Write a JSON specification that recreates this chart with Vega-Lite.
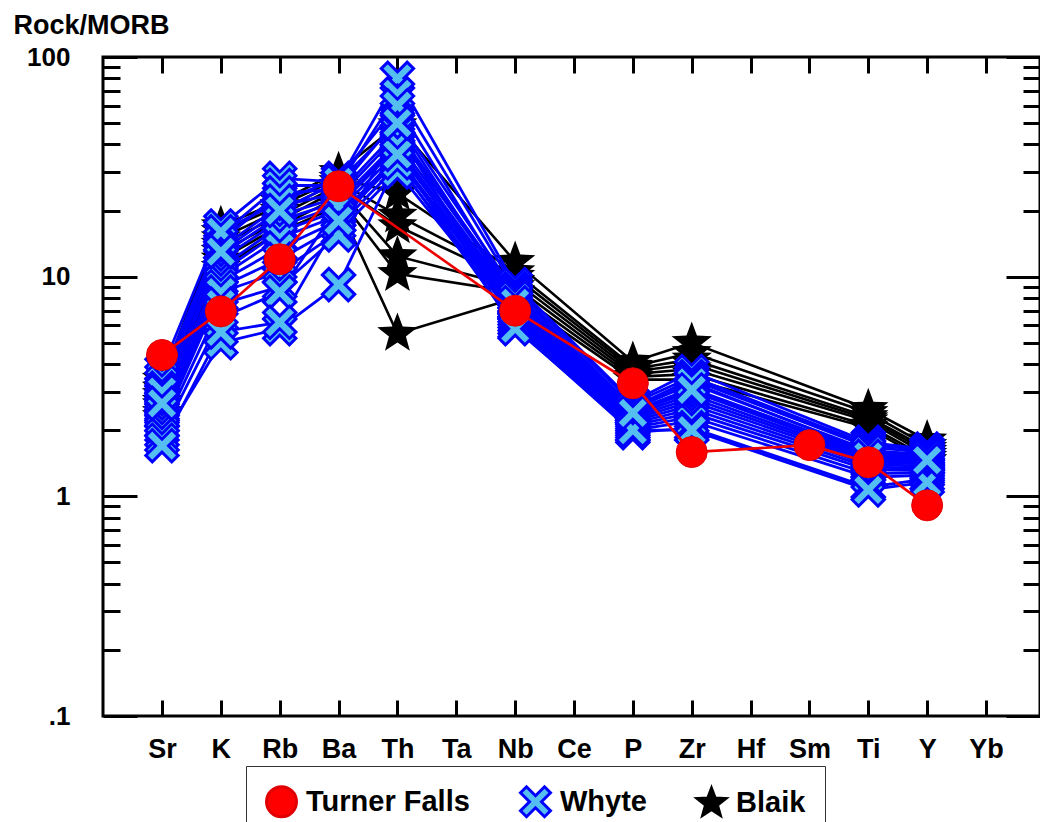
{
  "$schema": "https://vega.github.io/schema/vega-lite/v6.json",
  "width": 937,
  "height": 659,
  "autosize": {"type": "none"},
  "padding": {"left": 103, "top": 57, "right": 0, "bottom": 106},
  "background": "white",
  "config": {"view": {"stroke": "#000000", "strokeWidth": 3}, "font": "Liberation Sans"},
  "data": {"values": [
    {"g":"Blaik","s":"B1","el":"Sr","v":3.4},{"g":"Blaik","s":"B1","el":"K","v":17},{"g":"Blaik","s":"B1","el":"Rb","v":22},{"g":"Blaik","s":"B1","el":"Ba","v":30},{"g":"Blaik","s":"B1","el":"Th","v":49},{"g":"Blaik","s":"B1","el":"Nb","v":11.7},{"g":"Blaik","s":"B1","el":"P","v":4.1},{"g":"Blaik","s":"B1","el":"Zr","v":5.0},{"g":"Blaik","s":"B1","el":"Ti","v":2.5},{"g":"Blaik","s":"B1","el":"Y","v":1.8},
    {"g":"Blaik","s":"B2","el":"Sr","v":3.1},{"g":"Blaik","s":"B2","el":"K","v":16},{"g":"Blaik","s":"B2","el":"Rb","v":21},{"g":"Blaik","s":"B2","el":"Ba","v":28},{"g":"Blaik","s":"B2","el":"Th","v":24},{"g":"Blaik","s":"B2","el":"Nb","v":10.5},{"g":"Blaik","s":"B2","el":"P","v":3.9},{"g":"Blaik","s":"B2","el":"Zr","v":4.5},{"g":"Blaik","s":"B2","el":"Ti","v":2.4},{"g":"Blaik","s":"B2","el":"Y","v":1.7},
    {"g":"Blaik","s":"B3","el":"Sr","v":2.9},{"g":"Blaik","s":"B3","el":"K","v":15},{"g":"Blaik","s":"B3","el":"Rb","v":20},{"g":"Blaik","s":"B3","el":"Ba","v":27},{"g":"Blaik","s":"B3","el":"Th","v":19},{"g":"Blaik","s":"B3","el":"Nb","v":10},{"g":"Blaik","s":"B3","el":"P","v":3.8},{"g":"Blaik","s":"B3","el":"Zr","v":4.2},{"g":"Blaik","s":"B3","el":"Ti","v":2.3},{"g":"Blaik","s":"B3","el":"Y","v":1.65},
    {"g":"Blaik","s":"B4","el":"Sr","v":2.7},{"g":"Blaik","s":"B4","el":"K","v":14},{"g":"Blaik","s":"B4","el":"Rb","v":19},{"g":"Blaik","s":"B4","el":"Ba","v":26},{"g":"Blaik","s":"B4","el":"Th","v":17},{"g":"Blaik","s":"B4","el":"Nb","v":9.5},{"g":"Blaik","s":"B4","el":"P","v":3.7},{"g":"Blaik","s":"B4","el":"Zr","v":4.0},{"g":"Blaik","s":"B4","el":"Ti","v":2.25},{"g":"Blaik","s":"B4","el":"Y","v":1.6},
    {"g":"Blaik","s":"B5","el":"Sr","v":2.6},{"g":"Blaik","s":"B5","el":"K","v":13},{"g":"Blaik","s":"B5","el":"Rb","v":18},{"g":"Blaik","s":"B5","el":"Ba","v":25},{"g":"Blaik","s":"B5","el":"Th","v":12.4},{"g":"Blaik","s":"B5","el":"Nb","v":9},{"g":"Blaik","s":"B5","el":"P","v":3.6},{"g":"Blaik","s":"B5","el":"Zr","v":3.8},{"g":"Blaik","s":"B5","el":"Ti","v":2.2},{"g":"Blaik","s":"B5","el":"Y","v":1.55},
    {"g":"Blaik","s":"B6","el":"Sr","v":2.4},{"g":"Blaik","s":"B6","el":"K","v":12},{"g":"Blaik","s":"B6","el":"Rb","v":17},{"g":"Blaik","s":"B6","el":"Ba","v":23},{"g":"Blaik","s":"B6","el":"Th","v":10.3},{"g":"Blaik","s":"B6","el":"Nb","v":8.5},{"g":"Blaik","s":"B6","el":"P","v":3.5},{"g":"Blaik","s":"B6","el":"Zr","v":3.6},{"g":"Blaik","s":"B6","el":"Ti","v":2.1},{"g":"Blaik","s":"B6","el":"Y","v":1.5},
    {"g":"Blaik","s":"B7","el":"Sr","v":2.3},{"g":"Blaik","s":"B7","el":"K","v":11},{"g":"Blaik","s":"B7","el":"Rb","v":16},{"g":"Blaik","s":"B7","el":"Ba","v":21},{"g":"Blaik","s":"B7","el":"Th","v":5.5},{"g":"Blaik","s":"B7","el":"Nb","v":8},{"g":"Blaik","s":"B7","el":"P","v":3.4},{"g":"Blaik","s":"B7","el":"Zr","v":3.4},{"g":"Blaik","s":"B7","el":"Ti","v":2.05},{"g":"Blaik","s":"B7","el":"Y","v":1.45},
    {"g":"Whyte","s":"W1","el":"Sr","v":3.8},{"g":"Whyte","s":"W1","el":"K","v":17},{"g":"Whyte","s":"W1","el":"Rb","v":28},{"g":"Whyte","s":"W1","el":"Ba","v":27},{"g":"Whyte","s":"W1","el":"Th","v":80},{"g":"Whyte","s":"W1","el":"Nb","v":9.2},{"g":"Whyte","s":"W1","el":"P","v":2.7},{"g":"Whyte","s":"W1","el":"Zr","v":3.7},{"g":"Whyte","s":"W1","el":"Ti","v":1.76},{"g":"Whyte","s":"W1","el":"Y","v":1.64},
    {"g":"Whyte","s":"W2","el":"Sr","v":3.5},{"g":"Whyte","s":"W2","el":"K","v":15.5},{"g":"Whyte","s":"W2","el":"Rb","v":26},{"g":"Whyte","s":"W2","el":"Ba","v":26},{"g":"Whyte","s":"W2","el":"Th","v":68},{"g":"Whyte","s":"W2","el":"Nb","v":8.8},{"g":"Whyte","s":"W2","el":"P","v":2.65},{"g":"Whyte","s":"W2","el":"Zr","v":3.5},{"g":"Whyte","s":"W2","el":"Ti","v":1.72},{"g":"Whyte","s":"W2","el":"Y","v":1.62},
    {"g":"Whyte","s":"W3","el":"Sr","v":3.3},{"g":"Whyte","s":"W3","el":"K","v":14.5},{"g":"Whyte","s":"W3","el":"Rb","v":24},{"g":"Whyte","s":"W3","el":"Ba","v":25},{"g":"Whyte","s":"W3","el":"Th","v":52},{"g":"Whyte","s":"W3","el":"Nb","v":8.5},{"g":"Whyte","s":"W3","el":"P","v":2.55},{"g":"Whyte","s":"W3","el":"Zr","v":3.4},{"g":"Whyte","s":"W3","el":"Ti","v":1.68},{"g":"Whyte","s":"W3","el":"Y","v":1.58},
    {"g":"Whyte","s":"W4","el":"Sr","v":3.1},{"g":"Whyte","s":"W4","el":"K","v":13.5},{"g":"Whyte","s":"W4","el":"Rb","v":21},{"g":"Whyte","s":"W4","el":"Ba","v":24},{"g":"Whyte","s":"W4","el":"Th","v":46},{"g":"Whyte","s":"W4","el":"Nb","v":8.2},{"g":"Whyte","s":"W4","el":"P","v":2.5},{"g":"Whyte","s":"W4","el":"Zr","v":3.25},{"g":"Whyte","s":"W4","el":"Ti","v":1.62},{"g":"Whyte","s":"W4","el":"Y","v":1.55},
    {"g":"Whyte","s":"W5","el":"Sr","v":2.9},{"g":"Whyte","s":"W5","el":"K","v":12.5},{"g":"Whyte","s":"W5","el":"Rb","v":19},{"g":"Whyte","s":"W5","el":"Ba","v":23},{"g":"Whyte","s":"W5","el":"Th","v":44},{"g":"Whyte","s":"W5","el":"Nb","v":8.0},{"g":"Whyte","s":"W5","el":"P","v":2.45},{"g":"Whyte","s":"W5","el":"Zr","v":3.1},{"g":"Whyte","s":"W5","el":"Ti","v":1.58},{"g":"Whyte","s":"W5","el":"Y","v":1.5},
    {"g":"Whyte","s":"W6","el":"Sr","v":2.75},{"g":"Whyte","s":"W6","el":"K","v":12},{"g":"Whyte","s":"W6","el":"Rb","v":18},{"g":"Whyte","s":"W6","el":"Ba","v":22},{"g":"Whyte","s":"W6","el":"Th","v":41},{"g":"Whyte","s":"W6","el":"Nb","v":7.7},{"g":"Whyte","s":"W6","el":"P","v":2.4},{"g":"Whyte","s":"W6","el":"Zr","v":3.0},{"g":"Whyte","s":"W6","el":"Ti","v":1.55},{"g":"Whyte","s":"W6","el":"Y","v":1.48},
    {"g":"Whyte","s":"W7","el":"Sr","v":2.6},{"g":"Whyte","s":"W7","el":"K","v":11},{"g":"Whyte","s":"W7","el":"Rb","v":17},{"g":"Whyte","s":"W7","el":"Ba","v":21},{"g":"Whyte","s":"W7","el":"Th","v":39},{"g":"Whyte","s":"W7","el":"Nb","v":7.5},{"g":"Whyte","s":"W7","el":"P","v":2.35},{"g":"Whyte","s":"W7","el":"Zr","v":2.9},{"g":"Whyte","s":"W7","el":"Ti","v":1.5},{"g":"Whyte","s":"W7","el":"Y","v":1.45},
    {"g":"Whyte","s":"W8","el":"Sr","v":2.5},{"g":"Whyte","s":"W8","el":"K","v":10.5},{"g":"Whyte","s":"W8","el":"Rb","v":16},{"g":"Whyte","s":"W8","el":"Ba","v":20},{"g":"Whyte","s":"W8","el":"Th","v":37},{"g":"Whyte","s":"W8","el":"Nb","v":7.3},{"g":"Whyte","s":"W8","el":"P","v":2.3},{"g":"Whyte","s":"W8","el":"Zr","v":2.8},{"g":"Whyte","s":"W8","el":"Ti","v":1.47},{"g":"Whyte","s":"W8","el":"Y","v":1.42},
    {"g":"Whyte","s":"W9","el":"Sr","v":2.4},{"g":"Whyte","s":"W9","el":"K","v":10},{"g":"Whyte","s":"W9","el":"Rb","v":15},{"g":"Whyte","s":"W9","el":"Ba","v":19},{"g":"Whyte","s":"W9","el":"Th","v":35},{"g":"Whyte","s":"W9","el":"Nb","v":7.1},{"g":"Whyte","s":"W9","el":"P","v":2.25},{"g":"Whyte","s":"W9","el":"Zr","v":2.7},{"g":"Whyte","s":"W9","el":"Ti","v":1.44},{"g":"Whyte","s":"W9","el":"Y","v":1.4},
    {"g":"Whyte","s":"W10","el":"Sr","v":2.3},{"g":"Whyte","s":"W10","el":"K","v":9.5},{"g":"Whyte","s":"W10","el":"Rb","v":13.5},{"g":"Whyte","s":"W10","el":"Ba","v":18},{"g":"Whyte","s":"W10","el":"Th","v":34},{"g":"Whyte","s":"W10","el":"Nb","v":6.9},{"g":"Whyte","s":"W10","el":"P","v":2.2},{"g":"Whyte","s":"W10","el":"Zr","v":2.6},{"g":"Whyte","s":"W10","el":"Ti","v":1.4},{"g":"Whyte","s":"W10","el":"Y","v":1.37},
    {"g":"Whyte","s":"W11","el":"Sr","v":2.2},{"g":"Whyte","s":"W11","el":"K","v":9},{"g":"Whyte","s":"W11","el":"Rb","v":12},{"g":"Whyte","s":"W11","el":"Ba","v":17},{"g":"Whyte","s":"W11","el":"Th","v":32},{"g":"Whyte","s":"W11","el":"Nb","v":6.7},{"g":"Whyte","s":"W11","el":"P","v":2.15},{"g":"Whyte","s":"W11","el":"Zr","v":2.5},{"g":"Whyte","s":"W11","el":"Ti","v":1.36},{"g":"Whyte","s":"W11","el":"Y","v":1.34},
    {"g":"Whyte","s":"W12","el":"Sr","v":2.1},{"g":"Whyte","s":"W12","el":"K","v":8.5},{"g":"Whyte","s":"W12","el":"Rb","v":10.5},{"g":"Whyte","s":"W12","el":"Ba","v":16},{"g":"Whyte","s":"W12","el":"Th","v":30},{"g":"Whyte","s":"W12","el":"Nb","v":6.5},{"g":"Whyte","s":"W12","el":"P","v":2.1},{"g":"Whyte","s":"W12","el":"Zr","v":2.4},{"g":"Whyte","s":"W12","el":"Ti","v":1.32},{"g":"Whyte","s":"W12","el":"Y","v":1.31},
    {"g":"Whyte","s":"W13","el":"Sr","v":2.0},{"g":"Whyte","s":"W13","el":"K","v":7.5},{"g":"Whyte","s":"W13","el":"Rb","v":9},{"g":"Whyte","s":"W13","el":"Ba","v":15.5},{"g":"Whyte","s":"W13","el":"Th","v":46},{"g":"Whyte","s":"W13","el":"Nb","v":6.3},{"g":"Whyte","s":"W13","el":"P","v":2.05},{"g":"Whyte","s":"W13","el":"Zr","v":2.3},{"g":"Whyte","s":"W13","el":"Ti","v":1.27},{"g":"Whyte","s":"W13","el":"Y","v":1.28},
    {"g":"Whyte","s":"W14","el":"Sr","v":1.9},{"g":"Whyte","s":"W14","el":"K","v":6.5},{"g":"Whyte","s":"W14","el":"Rb","v":8.5},{"g":"Whyte","s":"W14","el":"Ba","v":21},{"g":"Whyte","s":"W14","el":"Th","v":40},{"g":"Whyte","s":"W14","el":"Nb","v":6.1},{"g":"Whyte","s":"W14","el":"P","v":2.0},{"g":"Whyte","s":"W14","el":"Zr","v":2.2},{"g":"Whyte","s":"W14","el":"Ti","v":1.22},{"g":"Whyte","s":"W14","el":"Y","v":1.25},
    {"g":"Whyte","s":"W15","el":"Sr","v":1.8},{"g":"Whyte","s":"W15","el":"K","v":5.0},{"g":"Whyte","s":"W15","el":"Rb","v":5.8},{"g":"Whyte","s":"W15","el":"Ba","v":9.2},{"g":"Whyte","s":"W15","el":"Th","v":33},{"g":"Whyte","s":"W15","el":"Nb","v":5.9},{"g":"Whyte","s":"W15","el":"P","v":1.95},{"g":"Whyte","s":"W15","el":"Zr","v":2.05},{"g":"Whyte","s":"W15","el":"Ti","v":1.1},{"g":"Whyte","s":"W15","el":"Y","v":1.2},
    {"g":"Whyte","s":"W16","el":"Sr","v":1.7},{"g":"Whyte","s":"W16","el":"K","v":5.6},{"g":"Whyte","s":"W16","el":"Rb","v":6.2},{"g":"Whyte","s":"W16","el":"Ba","v":18},{"g":"Whyte","s":"W16","el":"Th","v":36},{"g":"Whyte","s":"W16","el":"Nb","v":5.8},{"g":"Whyte","s":"W16","el":"P","v":2.0},{"g":"Whyte","s":"W16","el":"Zr","v":2.0},{"g":"Whyte","s":"W16","el":"Ti","v":1.07},{"g":"Whyte","s":"W16","el":"Y","v":1.16},
    {"g":"Whyte","s":"W17","el":"Sr","v":3.0},{"g":"Whyte","s":"W17","el":"K","v":16},{"g":"Whyte","s":"W17","el":"Rb","v":22},{"g":"Whyte","s":"W17","el":"Ba","v":28},{"g":"Whyte","s":"W17","el":"Th","v":60},{"g":"Whyte","s":"W17","el":"Nb","v":8.0},{"g":"Whyte","s":"W17","el":"P","v":2.5},{"g":"Whyte","s":"W17","el":"Zr","v":3.3},{"g":"Whyte","s":"W17","el":"Ti","v":1.6},{"g":"Whyte","s":"W17","el":"Y","v":1.52},
    {"g":"Whyte","s":"W18","el":"Sr","v":2.65},{"g":"Whyte","s":"W18","el":"K","v":13},{"g":"Whyte","s":"W18","el":"Rb","v":20},{"g":"Whyte","s":"W18","el":"Ba","v":27},{"g":"Whyte","s":"W18","el":"Th","v":50},{"g":"Whyte","s":"W18","el":"Nb","v":7.6},{"g":"Whyte","s":"W18","el":"P","v":2.4},{"g":"Whyte","s":"W18","el":"Zr","v":3.05},{"g":"Whyte","s":"W18","el":"Ti","v":1.52},{"g":"Whyte","s":"W18","el":"Y","v":1.46},
    {"g":"Turner Falls","s":"T1","el":"Sr","v":4.4},{"g":"Turner Falls","s":"T1","el":"K","v":6.95},{"g":"Turner Falls","s":"T1","el":"Rb","v":12},{"g":"Turner Falls","s":"T1","el":"Ba","v":25.8},{"g":"Turner Falls","s":"T1","el":"Nb","v":7.0},{"g":"Turner Falls","s":"T1","el":"P","v":3.27},{"g":"Turner Falls","s":"T1","el":"Zr","v":1.59},{"g":"Turner Falls","s":"T1","el":"Sm","v":1.71},{"g":"Turner Falls","s":"T1","el":"Ti","v":1.43},{"g":"Turner Falls","s":"T1","el":"Y","v":0.91}
  ]},
  "layer": [
    {
      "transform": [{"filter": "datum.g === 'Blaik'"}],
      "mark": {"type": "line", "color": "#000000", "strokeWidth": 2.6},
      "encoding": {
        "x": {"field": "el", "type": "ordinal",
          "scale": {"domain": ["Sr","K","Rb","Ba","Th","Ta","Nb","Ce","P","Zr","Hf","Sm","Ti","Y","Yb"], "range": [59, 883], "padding": 0},
          "axis": {"orient": "bottom", "title": null, "grid": false, "domain": false,
            "ticks": true, "tickColor": "#000000", "tickWidth": 3, "tickSize": -16,
            "labelFont": "Liberation Sans", "labelFontWeight": "bold", "labelFontSize": 27, "labelColor": "#000000", "labelPadding": 36, "labelAngle": 0}},
        "y": {"field": "v", "type": "quantitative",
          "scale": {"type": "log", "domain": [0.1, 100]},
          "axis": {"orient": "left", "grid": false, "domain": false,
            "values": [0.1,0.2,0.3,0.4,0.5,0.6,0.7,0.8,0.9,1,2,3,4,5,6,7,8,9,10,20,30,40,50,60,70,80,90,100],
            "ticks": true, "tickColor": "#000000", "tickWidth": 3,
            "tickSize": {"condition": {"test": "datum.value == 0.1 || datum.value == 1 || datum.value == 10 || datum.value == 100", "value": -34}, "value": -17},
            "labelExpr": "datum.value == 0.1 ? '.1' : ((datum.value == 1 || datum.value == 10 || datum.value == 100) ? format(datum.value, 'd') : '')",
            "labelOverlap": false, "labelFlush": false, "labelBound": false,
            "labelFont": "Liberation Sans", "labelFontWeight": "bold", "labelFontSize": 26, "labelColor": "#000000", "labelPadding": 67,
            "title": "Rock/MORB", "titleAngle": 0, "titleX": -90, "titleY": -24, "titleAlign": "left", "titleBaseline": "alphabetic",
            "titleFont": "Liberation Sans", "titleFontSize": 27, "titleFontWeight": "bold", "titleColor": "#000000"}},
        "detail": {"field": "s"},
        "order": {"value": null}
      }
    },
    {
      "transform": [{"filter": "datum.g === 'Blaik'"}],
      "mark": {"type": "point", "filled": true, "opacity": 1, "size": 1800, "strokeWidth": 0},
      "encoding": {
        "x": {"field": "el", "type": "ordinal", "scale": {"domain": ["Sr","K","Rb","Ba","Th","Ta","Nb","Ce","P","Zr","Hf","Sm","Ti","Y","Yb"], "range": [59, 883], "padding": 0}, "axis": null},
        "y": {"field": "v", "type": "quantitative", "scale": {"type": "log", "domain": [0.1, 100]}, "axis": null},
        "shape": {"field": "g", "type": "nominal", "scale": {"domain": ["Turner Falls","Whyte","Blaik"], "range": ["circle", "M-1,-0.6L-0.6,-1L0,-0.4L0.6,-1L1,-0.6L0.4,0L1,0.6L0.6,1L0,0.4L-0.6,1L-1,0.6L-0.4,0Z", "M0,-1L0.247,-0.34L0.951,-0.309L0.399,0.13L0.588,0.809L0,0.42L-0.588,0.809L-0.399,0.13L-0.951,-0.309L-0.247,-0.34Z"]}},
        "fill": {"field": "g", "type": "nominal", "scale": {"domain": ["Turner Falls","Whyte","Blaik"], "range": ["#FF0000", "#55BEF0", "#000000"]}},
        "stroke": {"field": "g", "type": "nominal", "scale": {"domain": ["Turner Falls","Whyte","Blaik"], "range": ["#E00000", "#0000FF", "#000000"]}}
      }
    },
    {
      "transform": [{"filter": "datum.g === 'Whyte'"}],
      "mark": {"type": "line", "color": "#0000FF", "strokeWidth": 2.8},
      "encoding": {
        "x": {"field": "el", "type": "ordinal", "scale": {"domain": ["Sr","K","Rb","Ba","Th","Ta","Nb","Ce","P","Zr","Hf","Sm","Ti","Y","Yb"], "range": [59, 883], "padding": 0}, "axis": null},
        "y": {"field": "v", "type": "quantitative", "scale": {"type": "log", "domain": [0.1, 100]}, "axis": null},
        "detail": {"field": "s"},
        "order": {"value": null}
      }
    },
    {
      "transform": [{"filter": "datum.g === 'Whyte'"}],
      "mark": {"type": "point", "filled": true, "opacity": 1, "size": 1050, "strokeWidth": 3},
      "encoding": {
        "x": {"field": "el", "type": "ordinal", "scale": {"domain": ["Sr","K","Rb","Ba","Th","Ta","Nb","Ce","P","Zr","Hf","Sm","Ti","Y","Yb"], "range": [59, 883], "padding": 0}, "axis": null},
        "y": {"field": "v", "type": "quantitative", "scale": {"type": "log", "domain": [0.1, 100]}, "axis": null},
        "shape": {"field": "g", "type": "nominal", "scale": {"domain": ["Turner Falls","Whyte","Blaik"], "range": ["circle", "M-1,-0.6L-0.6,-1L0,-0.4L0.6,-1L1,-0.6L0.4,0L1,0.6L0.6,1L0,0.4L-0.6,1L-1,0.6L-0.4,0Z", "M0,-1L0.247,-0.34L0.951,-0.309L0.399,0.13L0.588,0.809L0,0.42L-0.588,0.809L-0.399,0.13L-0.951,-0.309L-0.247,-0.34Z"]}},
        "fill": {"field": "g", "type": "nominal", "scale": {"domain": ["Turner Falls","Whyte","Blaik"], "range": ["#FF0000", "#55BEF0", "#000000"]}},
        "stroke": {"field": "g", "type": "nominal", "scale": {"domain": ["Turner Falls","Whyte","Blaik"], "range": ["#E00000", "#0000FF", "#000000"]}}
      }
    },
    {
      "transform": [{"filter": "datum.g === 'Turner Falls'"}],
      "mark": {"type": "line", "color": "#EE0000", "strokeWidth": 2.6},
      "encoding": {
        "x": {"field": "el", "type": "ordinal", "scale": {"domain": ["Sr","K","Rb","Ba","Th","Ta","Nb","Ce","P","Zr","Hf","Sm","Ti","Y","Yb"], "range": [59, 883], "padding": 0}, "axis": null},
        "y": {"field": "v", "type": "quantitative", "scale": {"type": "log", "domain": [0.1, 100]}, "axis": null},
        "detail": {"field": "s"},
        "order": {"value": null}
      }
    },
    {
      "transform": [{"filter": "datum.g === 'Turner Falls'"}],
      "mark": {"type": "point", "filled": true, "opacity": 1, "size": 961, "strokeWidth": 1},
      "encoding": {
        "x": {"field": "el", "type": "ordinal", "scale": {"domain": ["Sr","K","Rb","Ba","Th","Ta","Nb","Ce","P","Zr","Hf","Sm","Ti","Y","Yb"], "range": [59, 883], "padding": 0},
          "axis": {"orient": "top", "title": null, "grid": false, "labels": false, "domain": false,
            "ticks": true, "tickColor": "#000000", "tickWidth": 3, "tickSize": -16}},
        "y": {"field": "v", "type": "quantitative", "scale": {"type": "log", "domain": [0.1, 100]},
          "axis": {"orient": "right", "title": null, "grid": false, "labels": false, "domain": false,
            "values": [0.1,0.2,0.3,0.4,0.5,0.6,0.7,0.8,0.9,1,2,3,4,5,6,7,8,9,10,20,30,40,50,60,70,80,90,100],
            "ticks": true, "tickColor": "#000000", "tickWidth": 3,
            "tickSize": {"condition": {"test": "datum.value == 0.1 || datum.value == 1 || datum.value == 10 || datum.value == 100", "value": -34}, "value": -17}}},
        "shape": {"field": "g", "type": "nominal", "scale": {"domain": ["Turner Falls","Whyte","Blaik"], "range": ["circle", "M-1,-0.6L-0.6,-1L0,-0.4L0.6,-1L1,-0.6L0.4,0L1,0.6L0.6,1L0,0.4L-0.6,1L-1,0.6L-0.4,0Z", "M0,-1L0.247,-0.34L0.951,-0.309L0.399,0.13L0.588,0.809L0,0.42L-0.588,0.809L-0.399,0.13L-0.951,-0.309L-0.247,-0.34Z"]},
          "legend": {"title": null, "orient": "none", "legendX": 143, "legendY": 709, "direction": "horizontal", "columns": 3,
            "padding": 19, "strokeColor": "#333333", "fillColor": "#FFFFFF",
            "labelFont": "Liberation Sans", "labelFontWeight": "bold", "labelFontSize": 29, "labelColor": "#000000", "labelOffset": 8, "labelLimit": 0,
            "columnPadding": 44, "symbolSize": 900, "symbolStrokeWidth": 3, "symbolOpacity": 1,
            "encode": {"symbols": {"update": {"size": {"signal": "datum.value === 'Blaik' ? 1400 : 900"}, "strokeWidth": {"signal": "datum.value === 'Whyte' ? 3 : (datum.value === 'Blaik' ? 0 : 1)"}}}}}},
        "fill": {"field": "g", "type": "nominal", "scale": {"domain": ["Turner Falls","Whyte","Blaik"], "range": ["#FF0000", "#55BEF0", "#000000"]}},
        "stroke": {"field": "g", "type": "nominal", "scale": {"domain": ["Turner Falls","Whyte","Blaik"], "range": ["#E00000", "#0000FF", "#000000"]}}
      }
    }
  ],
  "resolve": {"axis": {"x": "independent", "y": "independent"}}
}
